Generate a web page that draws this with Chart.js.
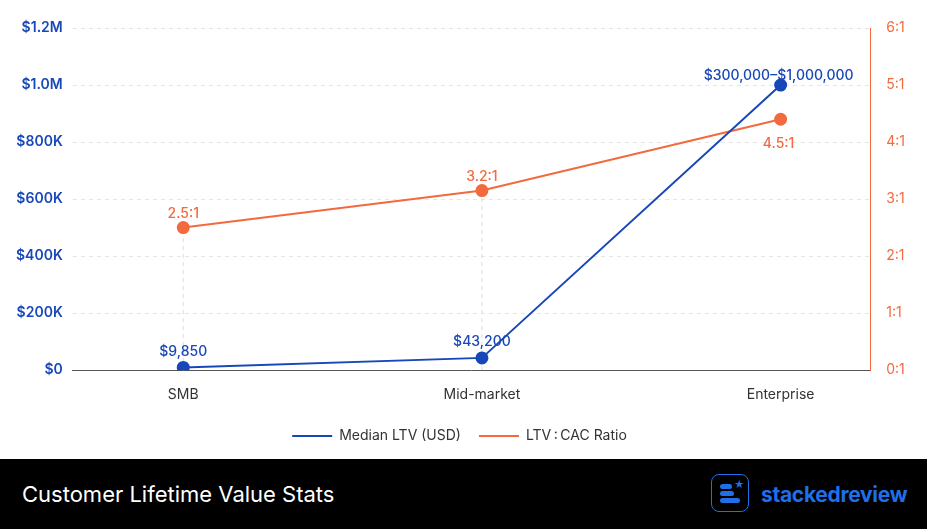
<!DOCTYPE html>
<html><head><meta charset="utf-8">
<script src="https://cdn.jsdelivr.net/npm/chart.js@4"></script>
<style>
body{margin:0;width:927px;height:529px;background:#fff;font-family:Inter,"Noto Sans",sans-serif;overflow:hidden}
#wrap{position:absolute;left:0;top:0;width:927px;height:459px}
#footer{position:absolute;left:0;top:459px;width:927px;height:70px;background:#000;color:#fff}
#title{position:absolute;left:22px;top:22px;font-size:22px}
#logo{position:absolute;left:711px;top:474px;width:38px;height:38px;border:1.5px solid #1f6fe8;border-radius:8px;box-sizing:border-box}
#brand{position:absolute;left:761px;top:482px;font-size:21px;font-weight:700;color:#1f6fe8;letter-spacing:-0.3px}
.bar{position:absolute;background:#1f6fe8;height:5px;border-radius:3px}
</style></head><body>
<div id="wrap"><canvas id="c"></canvas></div>
<div id="footer"><div id="title">Customer Lifetime Value Stats</div></div>
<div id="logo">
<div class="bar" style="left:8px;top:9px;width:12px"></div>
<div style="position:absolute;left:22px;top:3px;color:#1f6fe8;font-size:10px">★</div>
<div class="bar" style="left:8px;top:16px;width:14px"></div>
<div class="bar" style="left:8px;top:23px;width:20px"></div>
</div>
<div id="brand">stackedreview</div>
<script>
const categories = ['SMB', 'Mid-market', 'Enterprise'];
const medianLtv = [9850, 43200, 1000000];
const ltvLabels = ['$9,850', '$43,200', '$300,000–$1,000,000'];
const cacRatio = [2.5, 3.15, 4.4];
const ratioLabels = ['2.5:1', '3.2:1', '4.5:1'];
const BLUE = '#1747b8', ORANGE = '#f26a3d';

const labelPlugin = {
  id: 'labels',
  afterDatasetsDraw(chart) {
    const ctx = chart.ctx;
    ctx.save();
    ctx.font = '500 14px Inter, sans-serif';
    ctx.textAlign = 'center';
    chart.getDatasetMeta(0).data.forEach((p, i) => {
      ctx.fillStyle = BLUE;
      ctx.fillText(ltvLabels[i], i === 2 ? p.x - 2 : p.x, p.y - (i === 2 ? 9 : 16));
    });
    chart.getDatasetMeta(1).data.forEach((p, i) => {
      ctx.fillStyle = ORANGE;
      ctx.fillText(ratioLabels[i], i === 2 ? p.x - 2 : p.x, i === 2 ? p.y + 25 : p.y - 14);
    });
    ctx.restore();
  }
};

const xLines = {
  id: 'xLines',
  beforeDatasetsDraw(chart) {
    const ctx = chart.ctx, y = chart.scales.y;
    ctx.save();
    ctx.strokeStyle = '#dcdcdc';
    ctx.setLineDash([4, 4]);
    chart.getDatasetMeta(1).data.slice(0, 2).forEach(p => {
      ctx.beginPath(); ctx.moveTo(p.x, y.bottom); ctx.lineTo(p.x, p.y); ctx.stroke();
    });
    ctx.restore();
  }
};

new Chart(document.getElementById('c'), {
  type: 'line',
  data: {
    datasets: [
      { label: 'Median LTV (USD)', data: medianLtv.map((v, i) => ({ x: i, y: v })), yAxisID: 'y',
        borderColor: BLUE, backgroundColor: BLUE, borderWidth: 2, pointRadius: 5.5, tension: 0 },
      { label: 'LTV\u2009:\u2009CAC Ratio', data: cacRatio.map((v, i) => ({ x: i, y: v })), yAxisID: 'y1',
        borderColor: ORANGE, backgroundColor: ORANGE, borderWidth: 2, pointRadius: 5.5, tension: 0 }
    ]
  },
  options: {
    responsive: true, maintainAspectRatio: false, animation: false,
    layout: { padding: { left: 6, right: 14, top: 28, bottom: 6 } },
    plugins: {
      tooltip: { enabled: false },
      legend: { position: 'bottom', labels: { boxWidth: 40, boxHeight: 0, padding: 18,
        font: { size: 14, family: 'Inter' }, color: '#333',
        generateLabels: ch => ch.data.datasets.map((d, i) => ({ text: d.label, strokeStyle: d.borderColor, fillStyle: d.borderColor,
          lineWidth: 2, datasetIndex: i, fontColor: '#333' })) } }
    },
    scales: {
      x: { type: 'linear', min: -0.37, max: 2.3,
        afterBuildTicks: s => { s.ticks = [0, 1, 2].map(v => ({ value: v })); },
        ticks: { callback: v => categories[v], color: '#333', font: { size: 14, family: 'Inter' }, padding: 8 },
        grid: { display: false }, border: { color: '#555' } },
      y: { position: 'left', min: 0, max: 1200000, ticks: { stepSize: 200000, color: BLUE, font: { size: 14, weight: '600', family: 'Inter' }, padding: 10,
          callback: v => v === 0 ? '$0' : v >= 1000000 ? '$' + (v / 1e6).toFixed(1) + 'M' : '$' + v / 1000 + 'K' },
        grid: { color: '#e6e6e6', tickLength: 0 }, border: { display: false, dash: [4, 4] } },
      y1: { position: 'right', min: 0, max: 6, ticks: { stepSize: 1, color: ORANGE, font: { size: 14, family: 'Inter' }, padding: 8, callback: v => v + ':1' },
        grid: { display: false }, border: { color: ORANGE } }
    }
  },
  plugins: [labelPlugin, xLines]
});
</script>
</body></html>
